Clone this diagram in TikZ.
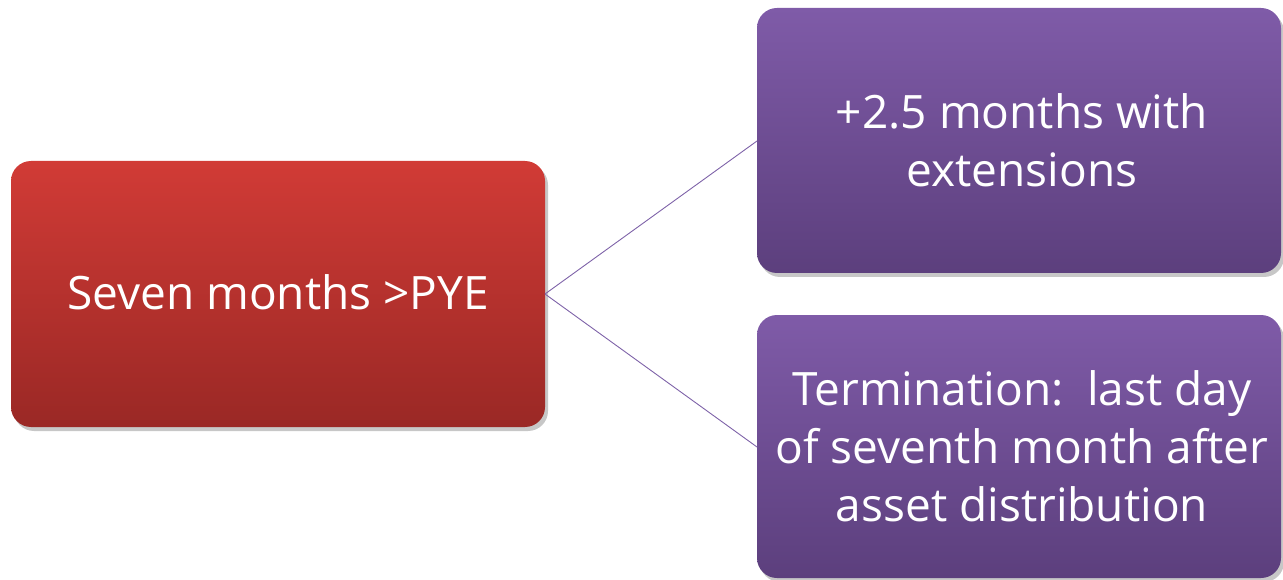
\documentclass[tikz,border=0pt]{standalone}
\usepackage{fontspec}
\setmainfont{Open Sans}
\usetikzlibrary{shadows}
\definecolor{redtop}{HTML}{D13B36}
\definecolor{redbot}{HTML}{9A2825}
\definecolor{purtop}{HTML}{7F5BA8}
\definecolor{purbot}{HTML}{5C3F7D}
\definecolor{linkcol}{HTML}{7E62A8}
\begin{document}
\begin{tikzpicture}[x=1pt,y=-1pt,
  box/.style={rounded corners=20pt,
    drop shadow={shadow xshift=3pt, shadow yshift=-4pt, opacity=0.22, fill=black}},
  redbox/.style={box, top color=redtop, bottom color=redbot},
  purbox/.style={box, top color=purtop, bottom color=purbot},
  label/.style={text=white, align=center, inner sep=0pt,
    font=\fontsize{46}{58}\selectfont},
  link/.style={draw=linkcol, line width=0.9pt}]
  \useasboundingbox (0,0) rectangle (1283,580);
  % left box
  \path[redbox] (11,161) rectangle (545,427);
  \node[label] (seven) at (278,292) {Seven months >PYE};
  \coordinate (sevenE) at (545,294);
  % upper right box
  \path[purbox] (757,8) rectangle (1281,273);
  \node[label] (ext) at (1022,140) {+2.5 months with\\extensions};
  \coordinate (extW) at (757,141);
  % lower right box
  \path[purbox] (757,315) rectangle (1281,578);
  \node[label] (term) at (1022,446) {Termination:\ \ last day\\of seventh month after\\asset distribution};
  \coordinate (termW) at (757,447);
  % connectors
  \draw[link] (sevenE) -- (extW);
  \draw[link] (sevenE) -- (termW);
\end{tikzpicture}
\end{document}
